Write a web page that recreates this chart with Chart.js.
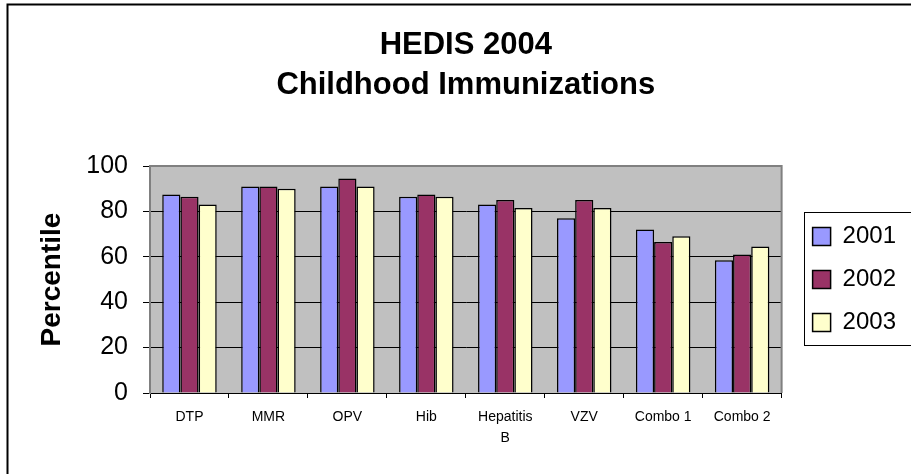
<!DOCTYPE html>
<html>
<head>
<meta charset="utf-8">
<script src="https://cdn.jsdelivr.net/npm/chart.js@4/dist/chart.umd.min.js"></script>
<style>
  html, body { margin: 0; padding: 0; background: #fff; }
  #wrap { position: absolute; left: 0; top: 0; width: 911px; height: 474px; }
</style>
</head>
<body>
<div id="wrap"><canvas id="hedis" width="911" height="474"></canvas></div>
<script>
var categories = ['DTP', 'MMR', 'OPV', 'Hib', ['Hepatitis', 'B'], 'VZV', 'Combo 1', 'Combo 2'];
var years = ['2001', '2002', '2003'];
var values2001 = [87.5, 91, 91, 86.5, 83, 77, 72, 58.5];
var values2002 = [86.5, 91, 94.5, 87.5, 85, 85, 66.5, 61];
var values2003 = [83, 90, 91, 86.5, 81.5, 81.5, 69, 64.5];
var yTicks = [0, 20, 40, 60, 80, 100];

var FONT = 'Arial, "Liberation Sans", sans-serif';

// grey plot background, grey top/right frame, outer chart frame, legend box
var excelLook = {
    id: 'excelLook',
    beforeDraw: function (chart) {
        var ctx = chart.ctx, a = chart.chartArea;
        ctx.save();
        ctx.fillStyle = '#c0c0c0';
        ctx.fillRect(a.left, a.top, a.right - a.left, a.bottom - a.top);
        ctx.restore();
    },
    beforeDatasetsDraw: function (chart) {
        var ctx = chart.ctx, a = chart.chartArea;
        ctx.save();
        ctx.strokeStyle = '#808080';
        ctx.lineWidth = 2;
        ctx.beginPath();
        ctx.moveTo(a.left, a.top);
        ctx.lineTo(a.right, a.top);
        ctx.lineTo(a.right, a.bottom);
        ctx.stroke();
        ctx.restore();
    },
    afterDraw: function (chart) {
        var ctx = chart.ctx, lg = chart.legend;
        ctx.save();
        ctx.strokeStyle = '#000';
        ctx.lineWidth = 2;
        ctx.beginPath();
        ctx.moveTo(7.5, chart.height);
        ctx.lineTo(7.5, 4.5);
        ctx.lineTo(chart.width, 4.5);
        ctx.stroke();
        var mid = (lg.top + lg.bottom) / 2;
        ctx.lineWidth = 1;
        ctx.strokeRect(Math.round(lg.left + 10) + 0.5, Math.round(mid - 68) + 0.5, 200, 133);
        ctx.restore();
    }
};

function makeSet(label, data, color) {
    return {
        label: label,
        data: data,
        backgroundColor: color,
        borderColor: '#000',
        borderWidth: 1.5,
        categoryPercentage: 0.69,
        barPercentage: 1.0
    };
}

var chart = new Chart(document.getElementById('hedis'), {
    type: 'bar',
    data: {
        labels: categories,
        datasets: [
            makeSet(years[0], values2001, '#9999ff'),
            makeSet(years[1], values2002, '#993366'),
            makeSet(years[2], values2003, '#ffffcc')
        ]
    },
    options: {
        responsive: false,
        animation: false,
        devicePixelRatio: 1,
        layout: { padding: { left: 0, right: 5, top: 0, bottom: 0 } },
        plugins: {
            tooltip: { enabled: false },
            title: {
                display: true,
                fullSize: false,
                text: ['HEDIS 2004', 'Childhood Immunizations'],
                color: '#000',
                font: { family: FONT, size: 31, weight: 'bold', lineHeight: '40px' },
                padding: { top: 25, bottom: 61 }
            },
            legend: {
                display: true,
                position: 'right',
                fullSize: false,
                labels: {
                    color: '#000',
                    font: { family: FONT, size: 24 },
                    boxWidth: 18,
                    boxHeight: 18,
                    padding: 19
                }
            }
        },
        scales: {
            x: {
                grid: { drawOnChartArea: false, drawTicks: true, tickLength: 5, tickColor: '#000' },
                border: { color: '#000', width: 1 },
                ticks: {
                    color: '#000',
                    font: { family: FONT, size: 14, lineHeight: 1.5 },
                    padding: 9,
                    maxRotation: 0,
                    autoSkip: false
                },
                afterFit: function (s) { s.height = 81; }
            },
            y: {
                min: 0,
                max: 100,
                afterBuildTicks: function (s) { s.ticks = yTicks.map(function (v) { return { value: v }; }); },
                grid: {
                    color: function (c) { return c.tick && c.tick.value === 100 ? '#808080' : '#000'; },
                    lineWidth: 1,
                    tickLength: 7,
                    tickColor: '#000'
                },
                border: { color: '#808080', width: 2 },
                ticks: { color: '#000', font: { family: FONT, size: 25 }, padding: 15 },
                title: {
                    display: true,
                    text: 'Percentile',
                    color: '#000',
                    font: { family: FONT, size: 28, weight: 'bold', lineHeight: 1.2 },
                    padding: { top: 35, bottom: 0 }
                },
                afterFit: function (s) { s.width = 150; }
            },
            gap: {
                position: 'right',
                weight: 0,
                display: true,
                grid: { display: false },
                border: { display: false },
                ticks: { display: false },
                afterFit: function (s) { s.width = 12; }
            }
        }
    },
    plugins: [excelLook]
});
</script>
</body>
</html>
